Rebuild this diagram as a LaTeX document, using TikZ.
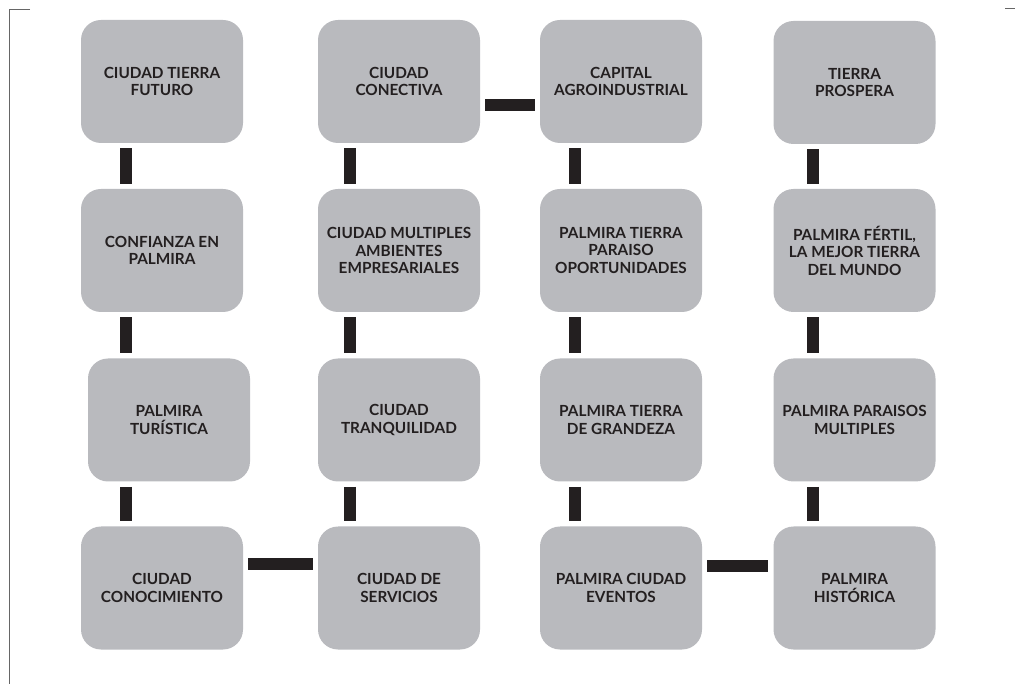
\documentclass[tikz,border=0pt]{standalone}
\usepackage{fontspec}
\setmainfont{Lato}
\definecolor{gris}{RGB}{185,186,190}
\definecolor{tinta}{RGB}{35,31,32}
\tikzset{
  caja/.style={fill=gris, rounded corners=15pt, minimum width=121.5pt, minimum height=92.25pt,
    inner sep=0pt, align=center, text=tinta, font=\bfseries\fontsize{11.5}{13.1}\selectfont},
  barra/.style={draw=tinta, line width=9pt, shorten <=3.75pt, shorten >=3.75pt},
  marca/.style={draw=black!60, line width=0.75pt}
}

\begin{document}
\begin{tikzpicture}[x=0.75pt,y=-0.75pt]
   \useasboundingbox (0,0) rectangle (1015,684);
   \draw[marca] (30,10) -- (9,10) -- (9,684);
   \draw[marca] (1005,9) -- (1015,9);

   \node[caja] (c1r1) at (162,81.5)   {CIUDAD TIERRA\\FUTURO};
   \node[caja] (c2r1) at (399,81.5)   {CIUDAD\\CONECTIVA};
   \node[caja] (c3r1) at (621,81.5)   {CAPITAL\\AGROINDUSTRIAL};
   \node[caja] (c4r1) at (854.5,82.5) {TIERRA\\PROSPERA};

   \node[caja] (c1r2) at (162,250.5)   {CONFIANZA EN\\PALMIRA};
   \node[caja] (c2r2) at (399,250.5)   {CIUDAD MULTIPLES\\AMBIENTES\\EMPRESARIALES};
   \node[caja] (c3r2) at (621,250.5)   {PALMIRA TIERRA\\PARAISO\\OPORTUNIDADES};
   \node[caja] (c4r2) at (854.5,250.5) {PALMIRA FÉRTIL,\\LA MEJOR TIERRA\\DEL MUNDO};

   \node[caja] (c1r3) at (169,420)   {PALMIRA\\TURÍSTICA};
   \node[caja] (c2r3) at (399,420)   {CIUDAD\\TRANQUILIDAD};
   \node[caja] (c3r3) at (621,420)   {PALMIRA TIERRA\\DE GRANDEZA};
   \node[caja] (c4r3) at (854.5,420) {PALMIRA PARAISOS\\MULTIPLES};

   \node[caja] (c1r4) at (162,588)   {CIUDAD\\CONOCIMIENTO};
   \node[caja] (c2r4) at (399,588)   {CIUDAD DE\\SERVICIOS};
   \node[caja] (c3r4) at (621,588)   {PALMIRA CIUDAD\\EVENTOS};
   \node[caja] (c4r4) at (854.5,588) {PALMIRA\\HISTÓRICA};

   \coordinate (x1) at (126,0);
   \coordinate (x2) at (349.5,0);
   \coordinate (x3) at (575,0);
   \coordinate (x4) at (813,0);
   \foreach \c in {1,2,3,4}{
      \draw[barra] (c\c r1.south -| x\c) -- (c\c r2.north -| x\c);
      \draw[barra] (c\c r2.south -| x\c) -- (c\c r3.north -| x\c);
      \draw[barra] (c\c r3.south -| x\c) -- (c\c r4.north -| x\c);
   }

   \coordinate (y1) at (0,105);
   \coordinate (y2) at (0,563.5);
   \coordinate (y3) at (0,566);
   \draw[barra] (c2r1.east |- y1) -- (c3r1.west |- y1);
   \draw[barra] (c1r4.east |- y2) -- (c2r4.west |- y2);
   \draw[barra] (c3r4.east |- y3) -- (c4r4.west |- y3);
\end{tikzpicture}
\end{document}
